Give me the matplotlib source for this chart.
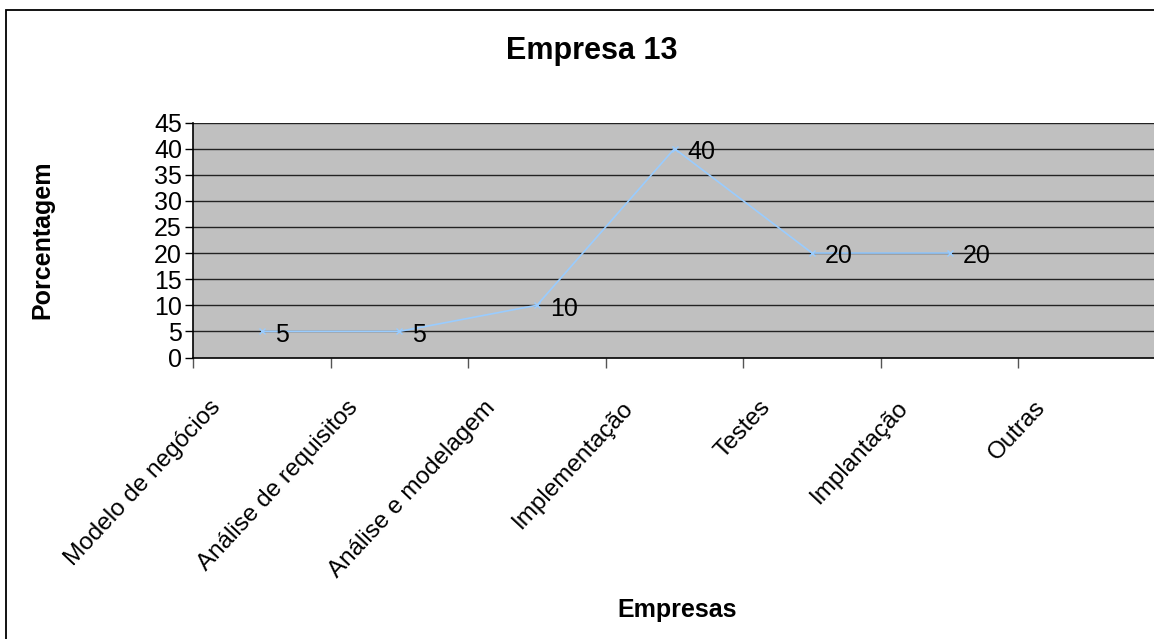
import numpy as np
import matplotlib
matplotlib.use("Agg")
import matplotlib.pyplot as plt
from matplotlib import transforms
from matplotlib.patches import Rectangle

plt.rcParams['font.family'] = ['Liberation Sans', 'DejaVu Sans']

# Chart data
categories = ["Modelo de negócios", "Análise de requisitos", "Análise e modelagem",
              "Implementação", "Testes", "Implantação", "Outras"]
percentages = [5, 5, 10, 40, 20, 20, np.nan]
y_ticks = [0, 5, 10, 15, 20, 25, 30, 35, 40, 45]

title = "Empresa 13"
x_title = "Empresas"
y_title = "Porcentagem"

W, H, DPI = 1154, 639, 100
fig = plt.figure(figsize=(W / DPI, H / DPI), dpi=DPI)
fig.patch.set_facecolor("white")

def fx(px):
    return px / W

def fy(py):
    return 1 - py / H

# Chart border
fig.patches.append(Rectangle((fx(6), fy(660)), fx(1175) - fx(6), fy(10) - fy(660),
                             transform=fig.transFigure, fill=False,
                             edgecolor="black", linewidth=1.3))

# Plot area
left, right, top, bottom = 193, 1156, 122.5, 357.5
ax = fig.add_axes([fx(left), fy(bottom), fx(right) - fx(left), fy(top) - fy(bottom)])
ax.set_facecolor("#C0C0C0")

n = len(categories)
x = np.arange(n)
ax.set_xlim(-0.5, n - 0.5)
ax.set_ylim(0, 45)

# Horizontal gridlines
for v in y_ticks[1:]:
    ax.axhline(v, color="#222222", linewidth=1.0, zorder=1)

ax.plot(x, percentages, color="#99CCFF", linewidth=1.2, marker="x",
        markersize=5, markeredgewidth=1.0, zorder=3)

# Value labels
for xi, v in zip(x, percentages):
    if np.isnan(v):
        continue
    ax.annotate(f"{v:g}", (xi, v), xytext=(9.4, -7.4), textcoords="offset points",
                ha="left", va="baseline", fontsize=18, color="black", zorder=4)

for side in ("top", "right"):
    ax.spines[side].set_visible(False)
ax.spines["left"].set_color("black")
ax.spines["bottom"].set_color("black")
ax.spines["left"].set_linewidth(1.2)
ax.spines["bottom"].set_linewidth(1.2)

ax.set_yticks(y_ticks)
ax.set_yticklabels([str(t) for t in y_ticks], fontsize=18)
ax.tick_params(axis="y", direction="out", length=6, width=1, color="black", pad=2)

ax.set_xticks(np.arange(n + 1) - 0.5)
ax.set_xticklabels([])
ax.tick_params(axis="x", direction="out", length=7, width=1, color="#555555")

# Rotated category labels
trans = transforms.blended_transform_factory(ax.transData, ax.transAxes)
for xi, name in zip(x, categories):
    ax.text(xi - 45 / 137.6, -(404 - bottom) / (bottom - top), name,
            transform=trans, rotation=47, rotation_mode="anchor",
            ha="right", va="center", fontsize=17.5, color="black", clip_on=False)

fig.text(fx(592), fy(59), title, ha="center", va="baseline",
         fontsize=22, fontweight="bold")
fig.text(fx(677), fy(617), x_title, ha="center", va="baseline",
         fontsize=18, fontweight="bold")
fig.text(fx(42), fy(240), y_title, ha="center", va="center", rotation=90,
         fontsize=18, fontweight="bold")

fig.savefig("out.png", dpi=DPI)
